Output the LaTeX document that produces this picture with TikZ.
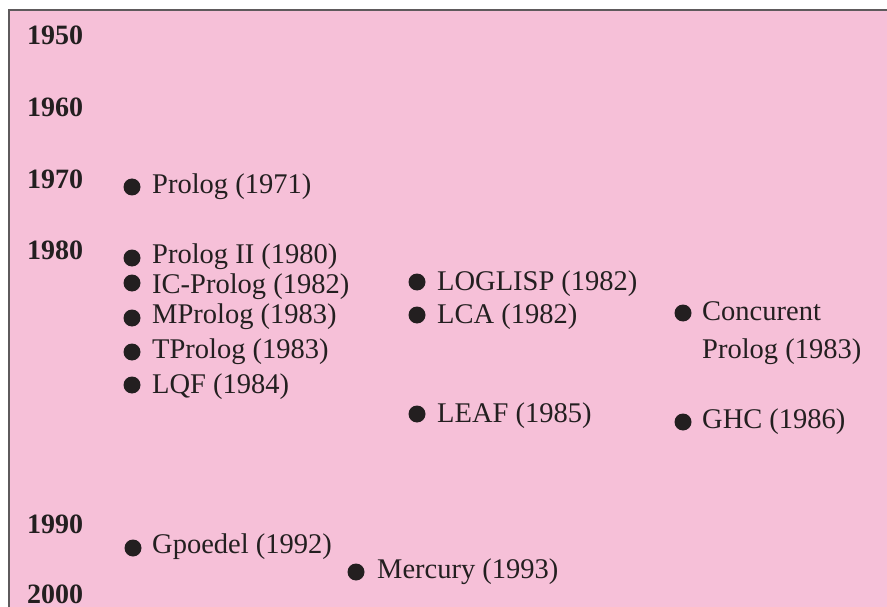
\documentclass[tikz,border=0pt]{standalone}
\usepackage{fontspec}
\setmainfont{Liberation Serif}
\definecolor{bgpink}{HTML}{F6C0D8}
\definecolor{ink}{HTML}{231F20}
\definecolor{frame}{HTML}{5E5A5C}
\begin{document}
\begin{tikzpicture}[x=1pt,y=-1pt,
  year/.style={anchor=base west,inner sep=0pt,text=ink,font=\fontsize{28}{34}\selectfont\bfseries},
  item/.style={anchor=base west,inner sep=0pt,text=ink,font=\fontsize{28.5}{38}\selectfont},
  dot/.style={circle,fill=ink,inner sep=0pt,minimum size=17pt}]
\useasboundingbox (0,0) rectangle (887,607);
\fill[white] (0,0) rectangle (887,607);
\fill[bgpink] (8,9) rectangle (887,607);
\draw[frame,line width=2pt] (8.8,607) -- (8.8,9.8) -- (887,9.8);
% years
\node[year] (y50) at (27,45) {1950};
\node[year] (y60) at (27,117) {1960};
\node[year] (y70) at (27,189) {1970};
\node[year] (y80) at (27,259) {1980};
\node[year] (y90) at (27,533) {1990};
\node[year] (y00) at (27,603) {2000};
% column 1
\node[dot] (d1) at (132,187) {};
\node[item] (t1) at (152,194) {Prolog (1971)};
\node[dot] (d2) at (132,258) {};
\node[item] (t2) at (152,263) {Prolog II (1980)};
\node[dot] (d3) at (132,283) {};
\node[item] (t3) at (152,293) {IC-Prolog (1982)};
\node[dot] (d4) at (132,318) {};
\node[item] (t4) at (152,323) {MProlog (1983)};
\node[dot] (d5) at (132,352) {};
\node[item] (t5) at (152,358) {TProlog (1983)};
\node[dot] (d6) at (132,385) {};
\node[item] (t6) at (152,393) {LQF (1984)};
% column 2
\node[dot] (d7) at (417,282) {};
\node[item] (t7) at (437,290) {LOGLISP (1982)};
\node[dot] (d8) at (417,315) {};
\node[item] (t8) at (437,323) {LCA (1982)};
\node[dot] (d9) at (417,414) {};
\node[item] (t9) at (437,422) {LEAF (1985)};
% column 3
\node[dot] (d10) at (683,313) {};
\node[item] (t10) at (702,320) {Concurent};
\node[item] (t10b) at (702,358) {Prolog (1983)};
\node[dot] (d11) at (683,422) {};
\node[item] (t11) at (702,428) {GHC (1986)};
% 1990s
\node[dot] (d12) at (133,548) {};
\node[item] (t12) at (152,553) {Gpoedel (1992)};
\node[dot] (d13) at (356,572) {};
\node[item] (t13) at (377,578) {Mercury (1993)};
\end{tikzpicture}
\end{document}
